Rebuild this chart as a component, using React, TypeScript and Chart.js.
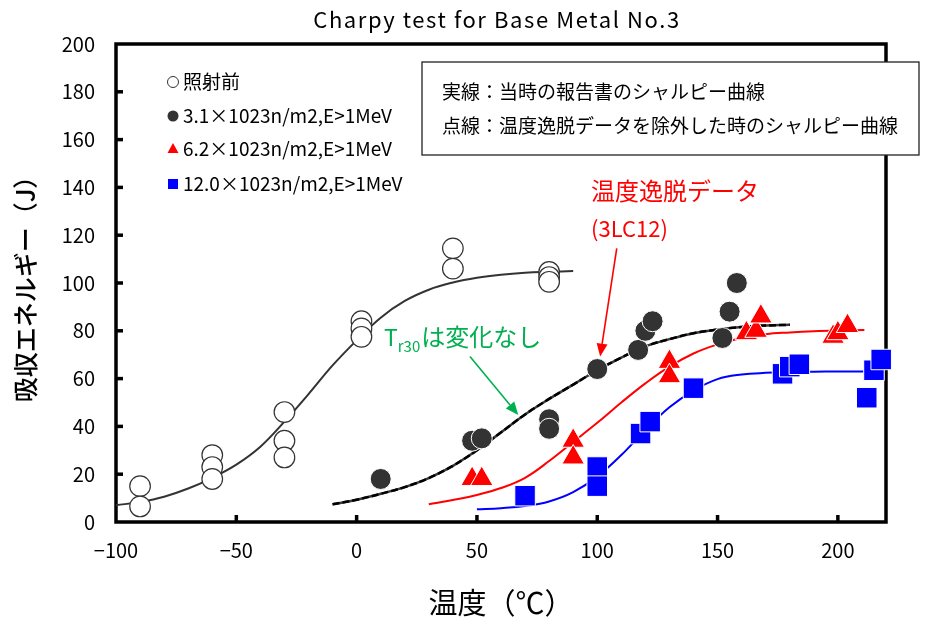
import React, { useEffect, useRef } from "react";
import { Chart, registerables } from "chart.js";

Chart.register(...registerables);

const FONT = '"Noto Sans CJK JP", "Noto Sans", sans-serif';

const titleText = "Charpy test for Base Metal No.3";
const xTitle = "温度（℃）";
const yTitle = "吸収エネルギー（J）";

const xTicks = [-100, -50, 0, 50, 100, 150, 200];
const yTicks = [0, 20, 40, 60, 80, 100, 120, 140, 160, 180, 200];

const legendLabels = [
  "照射前",
  "3.1×1023n/m2,E>1MeV",
  "6.2×1023n/m2,E>1MeV",
  "12.0×1023n/m2,E>1MeV",
];

const noteLines = [
  "実線：当時の報告書のシャルピー曲線",
  "点線：温度逸脱データを除外した時のシャルピー曲線",
];
const redNote = ["温度逸脱データ", "(3LC12)"];
const greenNote = { main: "T", sub: "r30", rest: "は変化なし" };

// Measured points
const unirrX = [-90, -90, -60, -60, -60, -30, -30, -30, 2, 2, 2, 40, 40, 80, 80, 80];
const unirrY = [15, 6.5, 28, 23, 18, 46, 34, 27, 84, 81, 77.5, 114.5, 106, 104.6, 102.5, 100.5];

const darkX = [10, 48, 52, 80, 80, 100, 117, 120, 123, 152, 155, 158];
const darkY = [18, 34, 35, 43, 39, 64, 72, 80, 84, 77, 88, 100];

const redX = [48, 52, 90, 90, 130, 130, 162, 166, 168, 198, 200, 204];
const redY = [18, 18, 34, 27, 67, 61, 79, 80, 86, 77.5, 79, 82];

const blueX = [70, 100, 100, 118, 122, 140, 177, 180, 184, 212, 215, 218];
const blueY = [11, 23, 15, 37, 42, 56, 62, 65, 66, 52, 63.5, 68];

// Fitted curves
const unirrCurveX = [-100, -90, -80, -70, -60, -50, -40, -30, -20, -10, 0, 10, 20, 30, 40, 50, 60, 70, 80, 90];
const unirrCurveY = [7, 8.4, 10.6, 14, 18.5, 24, 31.5, 42, 53.5, 65.5, 76, 85.5, 92.5, 97.2, 100.2, 102.2, 103.5, 104.3, 104.7, 105];

const darkCurveX = [-10, 0, 10, 20, 30, 40, 50, 60, 70, 80, 90, 100, 110, 120, 130, 140, 150, 160, 170, 180];
const darkCurveY = [7.4, 9.3, 11.8, 14.6, 18.4, 23.5, 30, 37.5, 45, 51.5, 57.5, 63.5, 68.8, 73.5, 76.5, 79, 80.5, 81.6, 82.2, 82.5];

const redCurveX = [30, 40, 50, 60, 70, 80, 90, 100, 110, 120, 130, 140, 150, 160, 170, 180, 190, 200, 211];
const redCurveY = [7.4, 9.2, 11.3, 14.2, 18.5, 25.5, 33.5, 41.5, 50, 58, 65, 70.5, 74.3, 77, 78.6, 79.3, 79.8, 80.1, 80.3];

const blueCurveX = [50, 60, 70, 80, 90, 100, 110, 120, 130, 140, 150, 160, 170, 180, 190, 200, 210, 219];
const blueCurveY = [5.3, 5.8, 6.7, 8.6, 12.5, 19, 28, 38.5, 48, 55, 59.8, 61.7, 62.4, 62.7, 62.9, 63, 63, 63];

// Arrow anchors in data units [tailX, tailY, tipX, tipY]
const redArrow = [108.1, 114.5, 101.2, 69.2];
const greenArrow = [47.1, 69.2, 67.2, 44.8];

const pts = (xs: number[], ys: number[]) => xs.map((x, i) => ({ x, y: ys[i] }));

const GREEN = "#00B050";
const RED = "#FF0000";
const BLUE = "#0000FF";
const DARK = "#333333";

const overlay = {
  id: "overlay",
  beforeDatasetsDraw(chart: any) {
    const { ctx, chartArea: a, scales } = chart;
    const x = scales.x;
    const y = scales.y;
    ctx.save();
    ctx.strokeStyle = "#000";
    ctx.lineWidth = 3.5;
    ctx.strokeRect(a.left, a.top, a.right - a.left, a.bottom - a.top);
    for (const v of xTicks) {
      const px = x.getPixelForValue(v);
      if (px <= a.left + 2 || px >= a.right - 2) continue;
      ctx.beginPath();
      ctx.moveTo(px, a.bottom);
      ctx.lineTo(px, a.bottom - 7);
      ctx.stroke();
    }
    for (const v of yTicks) {
      const py = y.getPixelForValue(v);
      if (py >= a.bottom - 2 || py <= a.top + 2) continue;
      ctx.beginPath();
      ctx.moveTo(a.left, py);
      ctx.lineTo(a.left + 7, py);
      ctx.stroke();
    }
    ctx.restore();
  },
  afterDatasetsDraw(chart: any) {
    const { ctx, scales } = chart;
    const x = scales.x;
    const y = scales.y;
    ctx.save();

    // title
    ctx.fillStyle = "#000";
    ctx.font = `22px ${FONT}`;
    ctx.textAlign = "center";
    ctx.textBaseline = "middle";
    try {
      (ctx as any).letterSpacing = "1.6px";
    } catch (e) {}
    ctx.fillText(titleText, 497, 20);
    try {
      (ctx as any).letterSpacing = "0px";
    } catch (e) {}

    // legend
    ctx.textAlign = "left";
    ctx.font = `19px ${FONT}`;
    const rowsY = [82, 116, 149, 184];
    const mx = 173;
    rowsY.forEach((ry, i) => {
      ctx.lineWidth = 1;
      if (i === 0) {
        ctx.beginPath();
        ctx.arc(mx, ry, 5.5, 0, Math.PI * 2);
        ctx.fillStyle = "#fff";
        ctx.fill();
        ctx.strokeStyle = DARK;
        ctx.stroke();
      } else if (i === 1) {
        ctx.beginPath();
        ctx.arc(mx, ry, 5.5, 0, Math.PI * 2);
        ctx.fillStyle = DARK;
        ctx.fill();
      } else if (i === 2) {
        ctx.beginPath();
        ctx.moveTo(mx, ry - 6);
        ctx.lineTo(mx + 5.5, ry + 4);
        ctx.lineTo(mx - 5.5, ry + 4);
        ctx.closePath();
        ctx.fillStyle = RED;
        ctx.fill();
      } else {
        ctx.fillStyle = BLUE;
        ctx.fillRect(mx - 5, ry - 5, 10, 10);
      }
      ctx.fillStyle = "#000";
      ctx.fillText(legendLabels[i], 183, ry);
    });

    // note box
    ctx.fillStyle = "#fff";
    ctx.fillRect(422, 62, 497, 93);
    ctx.strokeStyle = "#222";
    ctx.lineWidth = 1.3;
    ctx.strokeRect(422, 62, 497, 93);
    ctx.fillStyle = "#000";
    ctx.font = `19px ${FONT}`;
    ctx.fillText(noteLines[0], 442, 92);
    ctx.fillText(noteLines[1], 442, 126);

    // red note
    ctx.fillStyle = RED;
    ctx.font = `24px ${FONT}`;
    ctx.fillText(redNote[0], 591, 191);
    ctx.font = `22px ${FONT}`;
    ctx.fillText(redNote[1], 591, 229);

    // green note
    ctx.fillStyle = GREEN;
    ctx.font = `23px ${FONT}`;
    ctx.fillText(greenNote.main, 384, 337);
    const tw = ctx.measureText(greenNote.main).width;
    ctx.font = `15px ${FONT}`;
    ctx.fillText(greenNote.sub, 384 + tw, 346);
    const sw = ctx.measureText(greenNote.sub).width;
    ctx.font = `24px ${FONT}`;
    ctx.fillText(greenNote.rest, 384 + tw + sw + 1, 337);

    const arrow = (d: number[], color: string) => {
      const x1 = x.getPixelForValue(d[0]);
      const y1 = y.getPixelForValue(d[1]);
      const x2 = x.getPixelForValue(d[2]);
      const y2 = y.getPixelForValue(d[3]);
      const ang = Math.atan2(y2 - y1, x2 - x1);
      const hl = 13;
      const hw = 5.5;
      const bx = x2 - hl * Math.cos(ang);
      const by = y2 - hl * Math.sin(ang);
      ctx.strokeStyle = color;
      ctx.fillStyle = color;
      ctx.lineWidth = 1.6;
      ctx.beginPath();
      ctx.moveTo(x1, y1);
      ctx.lineTo(bx, by);
      ctx.stroke();
      ctx.beginPath();
      ctx.moveTo(x2, y2);
      ctx.lineTo(bx + hw * Math.sin(ang), by - hw * Math.cos(ang));
      ctx.lineTo(bx - hw * Math.sin(ang), by + hw * Math.cos(ang));
      ctx.closePath();
      ctx.fill();
    };
    arrow(redArrow, RED);
    arrow(greenArrow, GREEN);

    ctx.restore();
  },
};

const fmt = (v: number) => (v < 0 ? "\u2212" + Math.abs(v) : String(v));

export default function App() {
  const ref = useRef<HTMLCanvasElement | null>(null);
  useEffect(() => {
    if (!ref.current) return;
    const lineBase = {
      type: "scatter" as const,
      showLine: true,
      pointRadius: 0,
      pointHoverRadius: 0,
      tension: 0.4,
      fill: false,
      order: 1,
    };
    const chart = new Chart(ref.current, {
      type: "scatter",
      data: {
        datasets: [
          {
            label: legendLabels[0],
            data: pts(unirrX, unirrY),
            pointStyle: "circle",
            pointRadius: 10.3,
            pointBackgroundColor: "#fff",
            pointBorderColor: DARK,
            pointBorderWidth: 1.2,
            order: 0,
            clip: false,
          } as any,
          {
            label: legendLabels[1],
            data: pts(darkX, darkY),
            pointStyle: "circle",
            pointRadius: 10.5,
            pointBackgroundColor: DARK,
            pointBorderColor: "#fff",
            pointBorderWidth: 1,
            order: 0,
            clip: false,
          } as any,
          {
            label: legendLabels[2],
            data: pts(redX, redY),
            pointStyle: "triangle",
            pointRadius: 13,
            pointBackgroundColor: RED,
            pointBorderColor: "#fff",
            pointBorderWidth: 1,
            order: 0,
            clip: false,
          } as any,
          {
            label: legendLabels[3],
            data: pts(blueX, blueY),
            pointStyle: "rect",
            pointRadius: 14.5,
            pointBackgroundColor: BLUE,
            pointBorderColor: "#fff",
            pointBorderWidth: 1,
            order: 0,
            clip: false,
          } as any,
          { ...lineBase, label: "c0", data: pts(unirrCurveX, unirrCurveY), borderColor: DARK, borderWidth: 2 } as any,
          { ...lineBase, label: "c1", data: pts(darkCurveX, darkCurveY), borderColor: "#3a3a3a", borderWidth: 2.5 } as any,
          { ...lineBase, label: "c1d", data: pts(darkCurveX, darkCurveY), borderColor: "#000", borderWidth: 2.5, borderDash: [7, 3], order: 0.5 } as any,
          { ...lineBase, label: "c2", data: pts(redCurveX, redCurveY), borderColor: RED, borderWidth: 2 } as any,
          { ...lineBase, label: "c3", data: pts(blueCurveX, blueCurveY), borderColor: BLUE, borderWidth: 2 } as any,
        ],
      },
      options: {
        responsive: false,
        animation: false,
        layout: { padding: { top: 44, right: 46, left: 0, bottom: 0 } },
        plugins: {
          legend: { display: false },
          tooltip: { enabled: false },
          title: { display: false },
        },
        scales: {
          x: {
            type: "linear",
            min: -100,
            max: 220,
            afterBuildTicks: (s: any) => {
              s.ticks = xTicks.map((v) => ({ value: v }));
            },
            afterFit: (s: any) => {
              s.height = 102;
            },
            grid: { display: false, drawTicks: false },
            border: { display: false },
            ticks: {
              padding: 16,
              color: "#000",
              font: { family: FONT, size: 20 },
              callback: (v: any) => fmt(Number(v)),
            },
            title: {
              display: true,
              text: xTitle,
              color: "#000",
              font: { family: FONT, size: 29 },
              padding: { top: 0, bottom: 4 },
            },
          },
          y: {
            type: "linear",
            min: 0,
            max: 200,
            afterBuildTicks: (s: any) => {
              s.ticks = yTicks.map((v) => ({ value: v }));
            },
            afterFit: (s: any) => {
              s.width = 116;
            },
            grid: { display: false, drawTicks: false },
            border: { display: false },
            ticks: {
              padding: 21,
              color: "#000",
              font: { family: FONT, size: 20 },
              callback: (v: any) => fmt(Number(v)),
            },
            title: {
              display: true,
              text: yTitle,
              color: "#000",
              font: { family: FONT, size: 25, weight: "500" },
              padding: { top: 10, bottom: 0 },
            },
          },
        },
      } as any,
      plugins: [overlay],
    });
    return () => chart.destroy();
  }, []);
  return (
    <div style={{ position: "fixed", left: 0, top: 0, width: 932, height: 624, background: "#fff" }}>
      <canvas ref={ref} width={932} height={624} style={{ width: 932, height: 624, display: "block" }} />
    </div>
  );
}
